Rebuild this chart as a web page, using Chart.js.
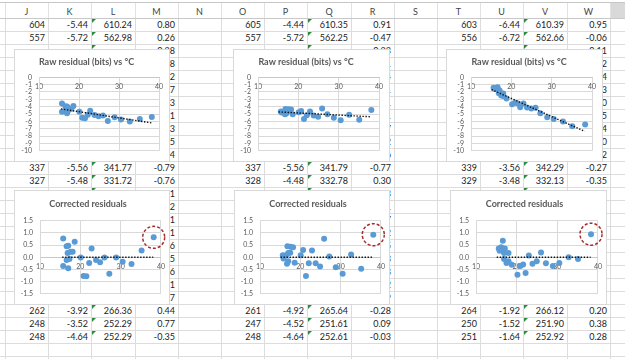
<!DOCTYPE html>
<html>
<head>
<meta charset="utf-8">
<script src="https://cdn.jsdelivr.net/npm/chart.js@4.4.1/dist/chart.umd.min.js"></script>
<style>
  html, body { margin: 0; padding: 0; background: #fff; }
  #sheet { position: relative; width: 625px; height: 359px; overflow: hidden; font-family: Lato, "Liberation Sans", sans-serif; }
  .hdr { position: absolute; top: 5px; height: 13px; line-height: 13px; text-align: center; font-size: 9px; color: #444; }
  .cell { position: absolute; height: 13px; line-height: 13px; text-align: right; font-size: 9px; color: #222; padding-right: 3px; box-sizing: border-box; white-space: nowrap; }
  .vl { position: absolute; width: 1px; background: #dcdcdc; }
  .hl { position: absolute; height: 1px; background: #dcdcdc; }
  .flag { position: absolute; width: 0; height: 0; border-top: 4px solid #2e8b3e; border-right: 4px solid transparent; }
  .box { position: absolute; background: #fff; outline: 1px solid #d9d9d9; outline-offset: -1px; }
  .box canvas { position: absolute; left: 0; top: 0; }
</style>
</head>
<body>
<div id="sheet"></div>

<script>
/* ===== spreadsheet cells ===== */

const colLetters = ["J", "K", "L", "M", "N", "O", "P", "Q", "R", "S", "T", "U", "V", "W"];

const row1 = ["604", "-5.44", "610.24", "0.80", "", "605", "-4.44", "610.35", "0.91", "", "603", "-6.44", "610.39", "0.95"];
const row2 = ["557", "-5.72", "562.98", "0.26", "", "557", "-5.72", "562.25", "-0.47", "", "556", "-6.72", "562.66", "-0.06"];
const row12 = ["337", "-5.56", "341.77", "-0.79", "", "337", "-5.56", "341.79", "-0.77", "", "339", "-3.56", "342.29", "-0.27"];
const row13 = ["327", "-5.48", "331.72", "-0.76", "", "328", "-4.48", "332.78", "0.30", "", "329", "-3.48", "332.13", "-0.35"];
const row23 = ["262", "-3.92", "266.36", "0.44", "", "261", "-4.92", "265.64", "-0.28", "", "264", "-1.92", "266.12", "0.20"];
const row24 = ["248", "-3.52", "252.29", "0.77", "", "247", "-4.52", "251.61", "0.09", "", "250", "-1.52", "251.90", "0.38"];
const row25 = ["248", "-4.64", "252.29", "-0.35", "", "248", "-4.64", "252.61", "-0.03", "", "251", "-1.64", "252.92", "0.28"];

// rows sitting behind the charts: only the last digit of M / R / W peeks out
const hiddenM1 = ["0.38", "-0.58", "0.12", "-0.27", "0.63", "0.41", "-0.13", "0.25", "-0.44"];
const hiddenR1 = ["0.33", "-0.21", "0.14", "0.51", "-0.31", "0.11", "0.47", "-0.12", "0.36"];
const hiddenW1 = ["0.11", "-0.32", "0.24", "0.43", "-0.10", "0.55", "-0.14", "0.60", "0.22"];
const hiddenM2 = ["0.21", "-0.52", "0.31", "-0.11", "0.46", "0.15", "-0.36", "0.71", "0.57"];
const hiddenR2 = ["0.13", "-0.41", "0.27", "0.02", "-0.15", "0.33", "0.08", "-0.22", "0.19"];

/* ===== chart data ===== */

// chart pair A (left)
const tempA = [15.75, 15.75, 16.6, 17.0, 16.85, 16.6, 17.0, 17.3, 17.6, 18.1, 18.6, 20.1, 20.8, 21.5, 22.2, 22.8, 23.9, 24.9, 26.0, 27.2, 28.9, 30.5, 32.7, 35.2, 38.2];
const rawA = [-3.55, -4.68, -3.94, -3.96, -4.23, -4.50, -4.88, -4.52, -4.25, -4.29, -3.92, -4.70, -5.52, -5.58, -5.09, -4.55, -5.12, -5.29, -5.19, -5.96, -5.44, -5.74, -6.03, -5.68, -5.39];
const corrA = [0.77, -0.36, 0.45, 0.47, 0.18, -0.11, -0.45, -0.07, 0.23, 0.23, 0.64, -0.01, -0.77, -0.78, -0.23, 0.36, -0.11, -0.20, -0.01, -0.68, -0.01, -0.18, -0.28, 0.28, 0.82];
const trendXA = [15.5, 38.1];
const trendYA = [-4.3, -6.2];
const ringA = [38.2, 0.82];

// chart pair B (middle)
const tempB = [15.66, 15.83, 16.5, 16.8, 16.7, 17.0, 17.0, 17.5, 17.6, 18.2, 18.6, 20.1, 20.7, 21.4, 22.1, 22.9, 23.8, 24.9, 25.9, 27.2, 28.8, 30.5, 32.6, 35.1, 38.1];
const rawB = [-4.65, -4.78, -4.67, -4.31, -5.03, -4.92, -4.58, -4.59, -4.35, -4.39, -5.03, -4.77, -4.57, -5.66, -5.15, -4.65, -5.20, -5.37, -4.26, -5.03, -5.51, -5.83, -5.09, -5.76, -4.44];
const corrB = [0.08, -0.05, 0.08, 0.45, -0.27, -0.16, 0.18, 0.19, 0.43, 0.41, -0.22, 0.08, 0.30, -0.77, -0.24, 0.28, -0.24, -0.38, 0.76, 0.03, -0.41, -0.68, 0.12, -0.47, 0.93];
const trendXB = [15.1, 38.0];
const trendYB = [-4.71, -5.37];
const ringB = [38.1, 0.93];

// chart pair C (right)
const tempC = [15.6, 15.8, 16.2, 16.6, 16.8, 16.9, 16.9, 17.1, 17.5, 18.0, 18.0, 18.8, 20.2, 20.9, 21.6, 22.2, 23.0, 23.9, 24.95, 26.0, 27.2, 28.9, 30.5, 32.8, 35.1, 38.3];
const rawC = [-1.43, -1.57, -1.53, -1.36, -1.78, -1.93, -2.18, -1.80, -2.49, -2.20, -2.54, -2.89, -3.65, -3.46, -3.57, -4.07, -3.55, -4.11, -4.26, -4.15, -4.89, -5.43, -5.69, -6.03, -6.67, -6.43];
const corrC = [0.36, 0.27, 0.41, 0.68, 0.31, 0.18, -0.07, 0.36, -0.23, 0.18, -0.16, -0.31, -0.72, -0.36, -0.30, -0.65, 0.07, -0.27, -0.16, 0.20, -0.24, -0.36, -0.23, 0.00, -0.07, 0.95];
const trendXC = [15.1, 38.2];
const trendYC = [-1.67, -7.36];
const ringC = [38.3, 0.95];

const zeroLine = [0, 0];

const rawTicks = { min: -10, max: 0, step: 1 };
const corrTicks = { min: -1.5, max: 1.5, step: 0.5 };

/* ===== draw the sheet ===== */

const sheet = document.getElementById("sheet");
const colLeft = 5;
const colWidth = 43.2;
const rowTop = 18;
const rowHeight = 13;

function colX(k) { return Math.round(colLeft + colWidth * k); }
function rowY(r) { return rowTop + rowHeight * (r - 1); }

function add(cls, style, text) {
    const el = document.createElement("div");
    el.className = cls;
    Object.assign(el.style, style);
    if (text) el.textContent = text;
    sheet.appendChild(el);
    return el;
}

// formula-bar edge and header
add("hl", { left: "0px", top: "2px", width: "625px", background: "#c6c6c6" });
add("hl", { left: "0px", top: "18px", width: "625px", background: "#c8c8c8" });
add("", { position: "absolute", left: colX(14) + "px", top: "3px", width: "20px", height: "15px", background: "#d9d9d9" });

colLetters.forEach((letter, k) => {
    add("hdr", { left: colX(k) + "px", width: (colX(k + 1) - colX(k)) + "px" }, letter);
});

// grid lines
for (let k = 0; k <= 14; k++) {
    add("vl", { left: colX(k) + "px", top: "3px", height: "15px", background: "#e2e2e2" });
    add("vl", { left: colX(k) + "px", top: "19px", height: "340px" });
}
for (let r = 2; r <= 27; r++) {
    add("hl", { left: "0px", top: rowY(r) + "px", width: "625px" });
}

function putRow(r, values) {
    values.forEach((v, k) => {
        if (!v) return;
        add("cell", { left: colX(k) + "px", top: rowY(r) + "px", width: (colX(k + 1) - colX(k)) + "px" }, v);
    });
}

putRow(1, row1);
putRow(2, row2);
putRow(12, row12);
putRow(13, row13);
putRow(23, row23);
putRow(24, row24);
putRow(25, row25);

hiddenM1.forEach((v, i) => {
    const vals = new Array(14).fill("");
    vals[3] = v; vals[8] = hiddenR1[i]; vals[13] = hiddenW1[i];
    putRow(3 + i, vals);
});
hiddenM2.forEach((v, i) => {
    const vals = new Array(14).fill("");
    vals[3] = v; vals[8] = hiddenR2[i];
    putRow(14 + i, vals);
});

// green "number stored as text" flags in columns L, Q, V
for (let r = 1; r <= 25; r++) {
    [2, 7, 12].forEach(k => {
        add("flag", { left: (colX(k) + 1) + "px", top: (rowY(r) + 1) + "px" });
    });
}

/* ===== charts ===== */

Chart.defaults.font.family = "Lato";

const ringPlugin = {
    id: "ring",
    afterDatasetsDraw(chart, args, opts) {
        if (!opts || opts.at == null) return;
        const { ctx, scales } = chart;
        ctx.save();
        ctx.strokeStyle = "#a52a2a";
        ctx.lineWidth = 1.5;
        ctx.setLineDash([3, 2]);
        ctx.beginPath();
        ctx.arc(scales.x.getPixelForValue(opts.at[0]), scales.y.getPixelForValue(opts.at[1]), opts.r, 0, Math.PI * 2);
        ctx.stroke();
        ctx.restore();
    }
};

function pairs(xs, ys) {
    return xs.map((x, i) => ({ x: x, y: ys[i] }));
}

function makeChart(box, title, xs, ys, trendX, trendY, ticks, ring) {

    const holder = add("box", {
        left: box.left + "px", top: box.top + "px",
        width: box.width + "px", height: box.height + "px"
    });

    const canvas = document.createElement("canvas");
    canvas.width = box.width;
    canvas.height = box.height;
    holder.appendChild(canvas);

    const decimals = ticks.step < 1;

    new Chart(canvas, {

        type: "scatter",

        data: {
            datasets: [
                {
                    data: pairs(trendX, trendY),
                    showLine: true,
                    borderColor: "#111",
                    borderWidth: 1.4,
                    borderDash: [1.4, 1.6],
                    pointRadius: 0
                },
                {
                    data: pairs(xs, ys),
                    backgroundColor: "#5b9bd5",
                    borderWidth: 0,
                    pointRadius: 3,
                    pointHoverRadius: 3
                }
            ]
        },

        options: {
            responsive: false,
            animation: false,
            events: [],
            devicePixelRatio: 1,

            layout: {
                padding: { left: 0, top: 0, right: box.padRight, bottom: box.padBottom }
            },

            plugins: {
                legend: { display: false },
                tooltip: { enabled: false },
                title: {
                    display: true,
                    text: title,
                    color: "#595959",
                    font: { size: 9, weight: "bold" },
                    padding: { top: box.titleTop, bottom: box.titleBottom }
                },
                ring: ring ? { at: ring, r: 11 } : {}
            },

            scales: {
                x: {
                    type: "linear",
                    min: 10,
                    max: 40,
                    position: { y: 0 },
                    ticks: {
                        stepSize: 10,
                        autoSkip: false,
                        color: "#595959",
                        font: { size: 7 },
                        padding: 5,
                        maxRotation: 0
                    },
                    grid: { color: "#d9d9d9", drawTicks: false },
                    border: { color: "#c8c8c8" }
                },
                y: {
                    type: "linear",
                    min: ticks.min,
                    max: ticks.max,
                    ticks: {
                        stepSize: ticks.step,
                        autoSkip: false,
                        color: "#595959",
                        font: { size: 7 },
                        padding: 7,
                        callback: v => decimals ? v.toFixed(1) : v
                    },
                    grid: { color: "#d9d9d9", drawTicks: false },
                    border: { color: "#d9d9d9" },
                    afterFit: scale => { scale.width = box.axisWidth; }
                }
            }
        },

        plugins: ring ? [ringPlugin] : []
    });
}

const rawTitle = "Raw residual (bits) vs °C";
const corrTitle = "Corrected residuals";

const rawBox = { height: 113, padRight: 11, padBottom: 8.5, titleTop: 8, titleBottom: 9.5, axisWidth: 25 };
const corrBox = { height: 115, padRight: 8, padBottom: 9.5, titleTop: 9, titleBottom: 11, axisWidth: 26 };

makeChart(Object.assign({ left: 14, top: 49, width: 156 }, rawBox), rawTitle, tempA, rawA, trendXA, trendYA, rawTicks, null);
makeChart(Object.assign({ left: 233, top: 49, width: 157 }, rawBox), rawTitle, tempB, rawB, trendXB, trendYB, rawTicks, null);
makeChart(Object.assign({ left: 446, top: 49, width: 157 }, rawBox), rawTitle, tempC, rawC, trendXC, trendYC, rawTicks, null);

makeChart(Object.assign({ left: 14, top: 190, width: 156 }, corrBox), corrTitle, tempA, corrA, trendXA, zeroLine, corrTicks, ringA);
makeChart(Object.assign({ left: 234, top: 190, width: 156 }, corrBox), corrTitle, tempB, corrB, trendXB, zeroLine, corrTicks, ringB);
makeChart(Object.assign({ left: 450, top: 190, width: 157 }, corrBox), corrTitle, tempC, corrC, trendXC, zeroLine, corrTicks, ringC);
</script>
</body>
</html>
